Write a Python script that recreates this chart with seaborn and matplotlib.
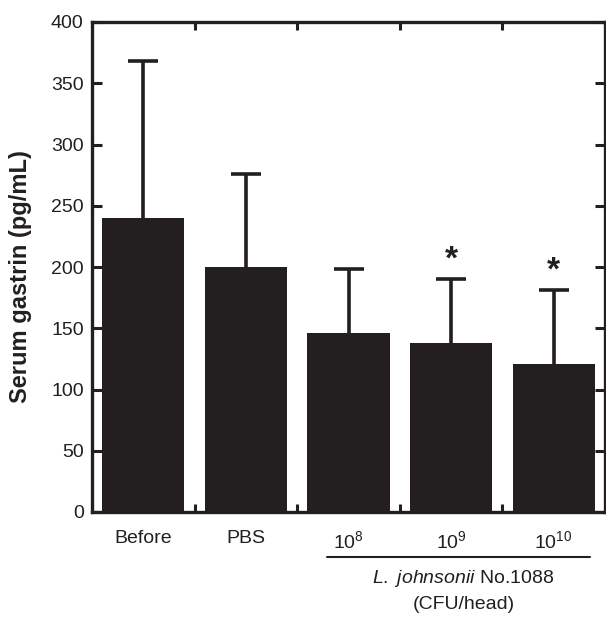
import matplotlib
matplotlib.use("Agg")
import matplotlib.pyplot as plt
import matplotlib.transforms as mtransforms
import seaborn as sns
import numpy as np

categories = ["Before", "PBS", "10$^{8}$", "10$^{9}$", "10$^{10}$"]
means = [240, 200, 146, 138, 121]
sd_upper = [128, 76, 52, 52, 60]
significant = [False, False, False, True, True]
yticks = [0, 50, 100, 150, 200, 250, 300, 350, 400]

sns.set_theme(style="white")
plt.rcParams["font.family"] = ["Liberation Sans", "DejaVu Sans"]
plt.rcParams["mathtext.fontset"] = "custom"
plt.rcParams["mathtext.rm"] = "Liberation Sans"
plt.rcParams["mathtext.it"] = "Liberation Sans:italic"
plt.rcParams["mathtext.bf"] = "Liberation Sans:bold"

dark = "#231f20"
fig = plt.figure(figsize=(6.06, 6.19), dpi=100)
ax = fig.add_axes([92/606, 1-512/619, (605-92)/606, (512-22)/619])

x = np.arange(len(categories))
sns.barplot(x=x, y=means, color=dark, width=0.8, ax=ax, saturation=1, native_scale=False)
for p in ax.patches:
    p.set_edgecolor("none")

eb = ax.errorbar(x, means, yerr=[np.zeros(len(means)), sd_upper], fmt="none",
                 ecolor=dark, elinewidth=2.6, capsize=11, capthick=2.6, zorder=3)
for cl in eb[1]:
    if np.allclose(cl.get_ydata(), means):
        cl.set_visible(False)

for xi, m, s, sig in zip(x, means, sd_upper, significant):
    if sig:
        ax.text(xi, m + s + 3, "*", ha="center", va="bottom", fontsize=24,
                fontweight="bold", color=dark)

ax.set_xlim(-0.5, len(categories) - 0.5)
ax.set_ylim(0, 400)
ax.set_yticks(yticks)
ax.set_yticklabels([str(t) for t in yticks])
ax.set_xticks(x)
ax.set_xticklabels(categories)
ax.set_xticks(np.arange(len(categories) - 1) + 0.5, minor=True)

ax.tick_params(axis="y", which="major", direction="in", length=7, width=2.2,
               left=True, right=True, labelsize=14, colors=dark, labelcolor=dark, pad=6)
ax.tick_params(axis="x", which="major", length=0, labelsize=14, labelcolor=dark, pad=13)
ax.tick_params(axis="x", which="minor", direction="in", length=6, width=2.2,
               bottom=True, top=True, color=dark)

for sp in ax.spines.values():
    sp.set_visible(True)
    sp.set_linewidth(2.4)
    sp.set_color(dark)

ax.set_ylabel("Serum gastrin (pg/mL)", fontsize=17, fontweight="bold", color=dark)
ax.yaxis.set_label_coords(-0.117, 0.48)
ax.set_xlabel("")

trans = mtransforms.blended_transform_factory(ax.transData, ax.transAxes)
ax.plot([1.79, 4.35], [-0.092, -0.092], color=dark, lw=1.5, transform=trans, clip_on=False)
ax.text(3.12, -0.135, "$\\it{L.}$ $\\it{johnsonii}$ No.1088", transform=trans, ha="center", va="center",
        fontsize=14, color=dark)
ax.text(3.12, -0.188, "(CFU/head)", transform=trans, ha="center", va="center",
        fontsize=14, color=dark)

fig.savefig("out.png", dpi=100)
